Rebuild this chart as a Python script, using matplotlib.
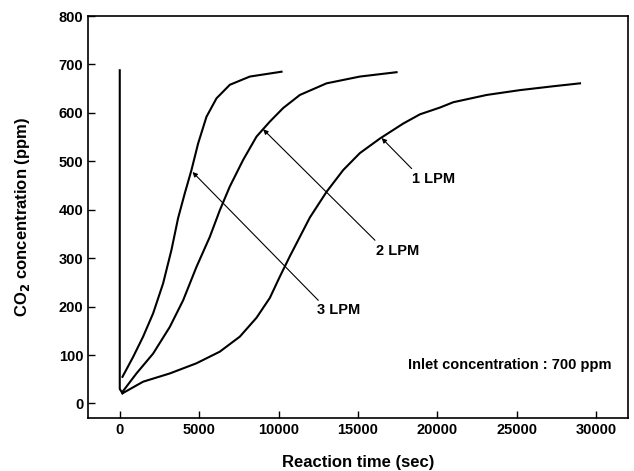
import matplotlib
matplotlib.use('Agg')
import matplotlib.pyplot as plt

plt.rcParams['font.family'] = ['Liberation Sans', 'DejaVu Sans']
plt.rcParams['font.weight'] = 'bold'

# breakthrough curves (time in sec, CO2 in ppm)
t_3lpm = [170, 840, 1470, 2100, 2730, 3255, 3675, 4095, 4515, 4935, 5460, 6090, 6930, 8190, 10185]
c_3lpm = [55, 96, 138, 186, 248, 317, 383, 434, 482, 537, 592, 630, 658, 675, 685]

t_2lpm = [170, 1050, 2100, 3150, 3990, 4830, 5670, 6300, 6930, 7770, 8610, 9450, 10290,
          11340, 13020, 15120, 17430]
c_2lpm = [24, 62, 103, 158, 213, 282, 344, 399, 448, 503, 551, 582, 610,
          637, 661, 675, 684]

t_1lpm = [170, 1470, 3150, 4830, 6300, 7560, 8610, 9450, 10080, 10710, 11340, 11970, 13020,
          14070, 15120, 16380, 17850, 18900, 20160, 21000, 23100, 25200, 27300, 28980]
c_1lpm = [21, 45, 62, 83, 107, 138, 177, 218, 262, 304, 344, 384, 437,
          482, 517, 547, 578, 597, 611, 622, 637, 647, 655, 661]

# initial spike at t = 0
t_spike = [0, 0, 170]
c_spike = [688, 30, 21]

labels = ['1 LPM', '2 LPM', '3 LPM']
arrow_tip = [(16490, 548), (9030, 566), (4580, 478)]
arrow_tail = [(18380, 485), (16070, 337), (12500, 213)]
label_pos = [(19790, 463), (17490, 315), (13800, 193)]

fig = plt.figure(figsize=(6.34, 4.71), dpi=100)
ax = fig.add_axes([0.1388, 0.1125, 0.8517, 0.8535])

ax.plot(t_spike, c_spike, color='black', lw=1.5)
ax.plot(t_3lpm, c_3lpm, color='black', lw=1.5)
ax.plot(t_2lpm, c_2lpm, color='black', lw=1.5)
ax.plot(t_1lpm, c_1lpm, color='black', lw=1.5)

for lab, tip, tail, pos in zip(labels, arrow_tip, arrow_tail, label_pos):
    ax.annotate('', xy=tip, xytext=tail,
                arrowprops=dict(arrowstyle='-|>', color='black', lw=0.8,
                                mutation_scale=7, shrinkA=0, shrinkB=0))
    ax.text(pos[0], pos[1], lab, ha='center', va='center', fontsize=10.5, fontweight='bold')

ax.text(30980, 79, 'Inlet concentration : 700 ppm', ha='right', va='center',
        fontsize=10.5, fontweight='bold')

ax.set_xlim(-2000, 32000)
ax.set_ylim(-30, 800)
ax.set_xticks([0, 5000, 10000, 15000, 20000, 25000, 30000])
ax.set_yticks([0, 100, 200, 300, 400, 500, 600, 700, 800])
ax.tick_params(direction='in', length=5, width=1, labelsize=10.5)
for lbl in ax.get_xticklabels() + ax.get_yticklabels():
    lbl.set_fontweight('bold')
for s in ax.spines.values():
    s.set_linewidth(1.2)

ax.set_xlabel('Reaction time (sec)', fontsize=12, fontweight='bold', labelpad=13)
ax.set_ylabel('CO$_\\mathbf{2}$ concentration (ppm)', fontsize=12, fontweight='bold', labelpad=19)

fig.savefig('out.png', dpi=100)
